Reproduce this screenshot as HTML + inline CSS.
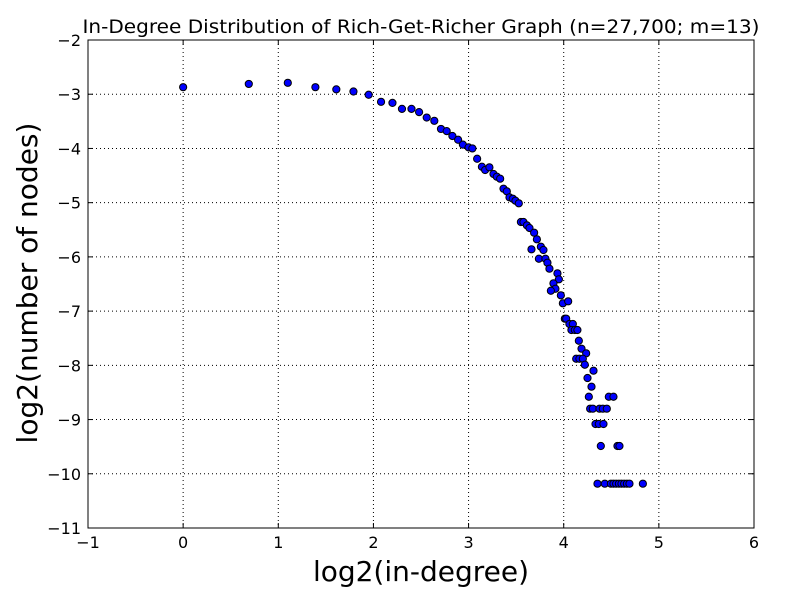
<!DOCTYPE html>
<html><head><meta charset="utf-8"><style>
body{margin:0;background:#fff;width:800px;height:600px;overflow:hidden}
svg{font-family:"DejaVu Sans","Liberation Sans",sans-serif}
</style></head><body>
<svg id="chart" width="800" height="600" xmlns="http://www.w3.org/2000/svg">
<rect width="800" height="600" fill="#fff"/>
<text x="421" y="33" font-size="19" text-anchor="middle" textLength="677" lengthAdjust="spacingAndGlyphs">In-Degree Distribution of Rich-Get-Richer Graph (n=27,700; m=13)</text>
<g id="grid"></g>
<g id="ticks"></g>
<g id="points"></g>
<rect x="88" y="40" width="666" height="488" fill="none" stroke="#000" stroke-width="1"/>
<text x="421" y="581" font-size="28" text-anchor="middle">log2(in-degree)</text>
<text x="37" y="283" font-size="28" text-anchor="middle" transform="rotate(-90 37 283)">log2(number of nodes)</text>
</svg>
<script>
const xTicks=[-1,0,1,2,3,4,5,6];
const yTicks=[-2,-3,-4,-5,-6,-7,-8,-9,-10,-11];
const xs=[0,0.69,1.10,1.39,1.61,1.79,1.95,2.08,2.20,2.30,2.40,2.48,2.56,2.64,2.71,2.77,2.83,2.89,2.94,3.00,3.04,3.09,
3.140,3.174,3.219,3.262,3.297,3.332,3.367,3.402,3.430,3.465,3.493,3.528,3.550,3.577,3.613,3.640,3.689,3.718,3.661,3.760,3.787,3.739,3.808,3.829,3.850,3.934,3.949,3.892,3.913,3.865,3.970,3.991,4.047,4.012,4.026,4.060,4.096,4.081,4.117,4.144,4.159,4.187,4.236,4.131,4.165,4.201,4.222,4.313,4.250,4.292,4.264,4.474,4.523,4.278,4.306,4.376,4.411,4.453,4.334,4.369,4.418,4.390,4.565,4.586,4.355,4.432,4.496,4.523,4.551,4.580,4.607,4.635,4.664,4.691,4.832];
const ys=[-2.87,-2.81,-2.79,-2.87,-2.91,-2.95,-3.01,-3.14,-3.16,-3.27,-3.27,-3.33,-3.43,-3.49,-3.64,-3.68,-3.77,-3.84,-3.93,-3.98,-4.00,-4.19,
-4.337,-4.398,-4.348,-4.471,-4.521,-4.558,-4.742,-4.791,-4.901,-4.927,-4.964,-5.012,-5.357,-5.357,-5.418,-5.467,-5.554,-5.676,-5.860,-5.812,-5.873,-6.034,-6.034,-6.107,-6.218,-6.303,-6.414,-6.487,-6.587,-6.624,-6.709,-6.856,-6.819,-7.140,-7.140,-7.238,-7.238,-7.349,-7.349,-7.349,-7.546,-7.693,-7.778,-7.878,-7.878,-7.878,-7.989,-8.099,-8.234,-8.394,-8.579,-8.579,-8.579,-8.800,-8.800,-8.800,-8.800,-8.800,-9.082,-9.082,-9.082,-9.488,-9.488,-9.488,-10.183,-10.183,-10.183,-10.183,-10.183,-10.183,-10.183,-10.183,-10.183,-10.183,-10.183];
const NS="http://www.w3.org/2000/svg";
const X0=88,X1=754,Y0=40,Y1=528;
function sx(v){return X0+(v-(-1))/(6-(-1))*(X1-X0);}
function sy(v){return Y0+(-2-v)/((-2)-(-11))*(Y1-Y0);}
function mk(tag,at,parent){const e=document.createElementNS(NS,tag);for(const k in at)e.setAttribute(k,at[k]);parent.appendChild(e);return e;}
const grid=document.getElementById('grid'),ticks=document.getElementById('ticks'),pts=document.getElementById('points');
xTicks.forEach(t=>{const x=sx(t);
 const g=mk('line',{x1:x,x2:x,y1:Y0,y2:Y1,stroke:'#000','stroke-dasharray':'1,3','stroke-width':1},grid);
 
 
 mk('line',{x1:x,x2:x,y1:Y1,y2:Y1-5,stroke:'#000'},ticks);
 mk('line',{x1:x,x2:x,y1:Y0,y2:Y0+5,stroke:'#000'},ticks);
 const l=mk('text',{x:x,y:Y1+20,'font-size':16,'text-anchor':'middle'},ticks);
 l.textContent=(t<0?'\u2212'+(-t):t);
 
 
});
yTicks.forEach(t=>{const y=sy(t);
 const g=mk('line',{x1:X0,x2:X1,y1:y,y2:y,stroke:'#000','stroke-dasharray':'1,3','stroke-width':1},grid);
 
 
 mk('line',{x1:X0,x2:X0+5,y1:y,y2:y,stroke:'#000'},ticks);
 mk('line',{x1:X1,x2:X1-5,y1:y,y2:y,stroke:'#000'},ticks);
 const l=mk('text',{x:X0-7,y:y+6,'font-size':16,'text-anchor':'end'},ticks);
 l.textContent=(t<0?'\u2212'+(-t):t);
 
 
});
xs.forEach((v,i)=>{
 const c=mk('circle',{cx:sx(v),cy:sy(ys[i]),r:3.6,fill:'#0000ff',stroke:'#000','stroke-width':1},pts);
 
 
});
</script>
</body></html>
